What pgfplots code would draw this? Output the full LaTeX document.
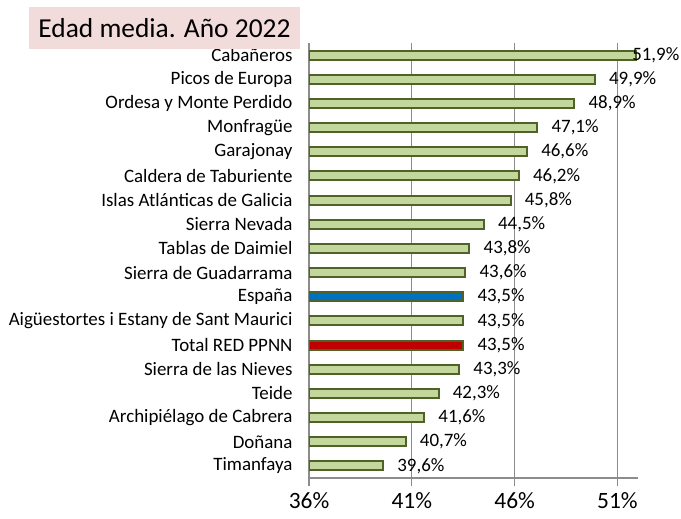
\documentclass[border=0pt]{standalone}
\usepackage{pgfplots}
\pgfplotsset{compat=1.18}
\usepackage{fontspec}
\setmainfont{Carlito}
\definecolor{barfill}{HTML}{C3D69B}
\definecolor{bardraw}{HTML}{4F6228}
\definecolor{esp}{HTML}{0070C0}
\definecolor{tot}{HTML}{C00000}
\definecolor{gridc}{HTML}{8C8C8C}
\definecolor{titlebg}{HTML}{F2DCDB}
\begin{document}
\begin{tikzpicture}
\begin{axis}[
  name=ax,
  scale only axis,
  width=329bp, height=435bp,
  xmin=36, xmax=52, ymin=-0.5, ymax=17.5,
  axis lines*=left,
  axis line style={gridc, line width=1.2bp},
  xtick={36,41,46,51},
  xticklabel={\pgfmathprintnumber{\tick}\%},
  /pgf/number format/assume math mode=true,
  xticklabel style={font=\fontsize{23.5}{26}\selectfont, yshift=-3bp},
  xmajorgrids,
  major grid style={gridc, line width=1.2bp},
  tick align=outside,
  tick style={gridc, line width=1.2bp},
  major tick length=8bp,
  ytick={0,...,17},
  yticklabels={Timanfaya,Doñana,Archipiélago de Cabrera,Teide,Sierra de las Nieves,Total RED PPNN,Aigüestortes i Estany de Sant Maurici,España,Sierra de Guadarrama,Tablas de Daimiel,Sierra Nevada,Islas Atlánticas de Galicia,Caldera de Taburiente,Garajonay,Monfragüe,Ordesa y Monte Perdido,Picos de Europa,Cabañeros},
  yticklabel style={font=\fontsize{19}{21}\selectfont, xshift=-5bp},
  ytick style={draw=none},
  minor ytick={-0.5,0.5,...,17.5},
  minor tick length=8bp,
  minor tick style={gridc, line width=1.2bp},
  xtick pos=bottom, ytick pos=left,
  xbar, bar width=9bp, bar shift=0pt,
  nodes near coords={\pgfmathprintnumber[fixed,fixed zerofill,precision=1,use comma]{\pgfplotspointmeta}\%},
  point meta=x,
  every node near coord/.append style={font=\fontsize{19}{21}\selectfont, black, anchor=west, xshift=10bp},
]
\addplot[fill=barfill, draw=bardraw, line width=2bp] coordinates {
(49.9,16) (48.9,15) (47.1,14) (46.6,13) (46.2,12) (45.8,11) (44.5,10) (43.8,9) (43.6,8) (43.5,6) (43.3,4) (42.3,3) (41.6,2) (40.7,1) (39.6,0)};
\addplot[fill=barfill, draw=bardraw, line width=2bp, every node near coord/.append style={xshift=-18bp}] coordinates {(51.9,17)};
\addplot[fill=esp, draw=bardraw, line width=2bp] coordinates {(43.5,7)};
\addplot[fill=tot, draw=bardraw, line width=2bp] coordinates {(43.5,5)};
\end{axis}
\node[fill=titlebg, minimum width=271bp, minimum height=42bp, inner sep=0pt, font=\fontsize{27.5}{30}\selectfont] at ([shift={(-144.5bp,15bp)}]ax.north west) {Edad media. Año 2022};
\pgfresetboundingbox
\path[use as bounding box] ([shift={(-309bp,-41bp)}]ax.south west) rectangle ([shift={(43bp,43bp)}]ax.north east);
\end{tikzpicture}
\end{document}
